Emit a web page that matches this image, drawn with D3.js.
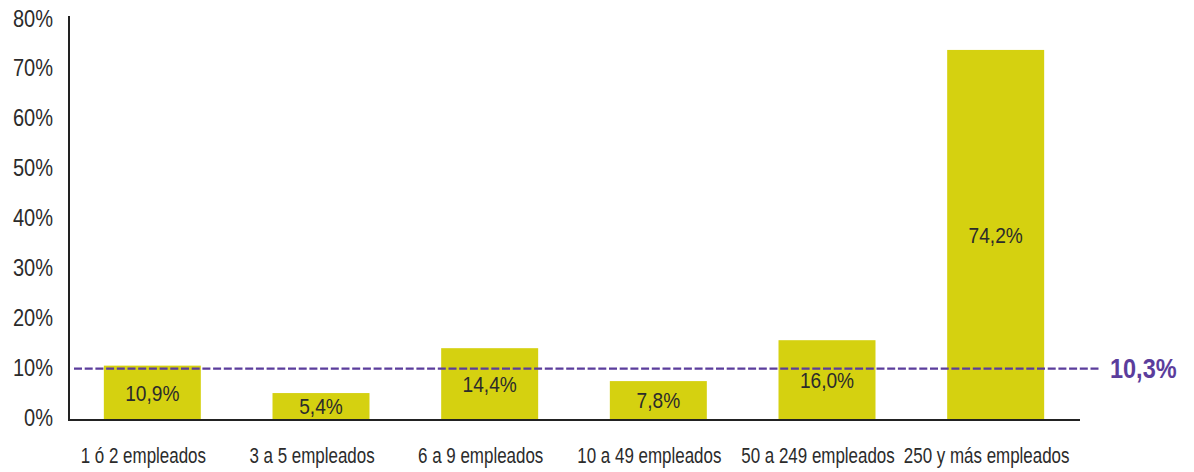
<!DOCTYPE html>
<html>
<head>
<meta charset="utf-8">
<script src="https://cdn.jsdelivr.net/npm/d3@7"></script>
<style>
  html, body { margin: 0; padding: 0; background: #fff; }
  svg text { font-family: "Liberation Sans", Arial, Helvetica, sans-serif; }
</style>
</head>
<body>
<svg id="chart" width="1194" height="472"></svg>
<script>
// Share of companies by size band, with the overall average
const categories = ["1 ó 2 empleados", "3 a 5 empleados", "6 a 9 empleados",
                    "10 a 49 empleados", "50 a 249 empleados", "250 y más empleados"];
const values = [10.9, 5.4, 14.4, 7.8, 16.0, 74.2];
const average = 10.3;
const yTicks = [0, 10, 20, 30, 40, 50, 60, 70, 80];

const fmt = v => d3.format(".1f")(v).replace(".", ",") + "%";

const svg = d3.select("#chart");
const plotLeft = 68, plotRight = 1080, plotTop = 21, plotBottom = 420;

// Horizontal squeeze factors that give a condensed look to the sans font
const squeezeDigits = 0.87;
const squeezeWords = 0.77;

const x = d3.scaleBand()
  .domain(categories)
  .range([plotLeft, plotRight])
  .paddingInner(0.425)
  .paddingOuter(0.2125);

const y = d3.scaleLinear().domain([0, 80]).range([plotBottom, plotTop]);

const textColor = "#2b2b2b";
const barColor = "#d5d110";
const avgColor = "#5b3d9c";

// Bars
svg.append("g").selectAll("rect")
  .data(values)
  .join("rect")
  .attr("x", (d, i) => x(categories[i]))
  .attr("width", x.bandwidth())
  .attr("y", d => y(d))
  .attr("height", d => y(0) - y(d))
  .attr("fill", barColor);

// Value labels inside bars
svg.append("g").selectAll("text")
  .data(values)
  .join("text")
  .attr("transform", (d, i) =>
    `translate(${x(categories[i]) + x.bandwidth() / 2},${(y(d) + y(0)) / 2}) scale(${squeezeDigits},1)`)
  .attr("text-anchor", "middle")
  .attr("dy", "0.35em")
  .attr("font-size", 22)
  .attr("fill", textColor)
  .text(d => fmt(d));

// Y axis
const yAxis = svg.append("g")
  .attr("transform", `translate(${plotLeft},0)`)
  .call(d3.axisLeft(y).tickValues(yTicks).tickSize(0).tickFormat(d => d + "%"));
yAxis.select(".domain").remove();
yAxis.selectAll("text")
  .attr("x", 0)
  .attr("dy", "0.35em")
  .attr("transform", `translate(-15,-3) scale(${squeezeDigits},1)`)
  .attr("font-size", 23)
  .attr("fill", textColor);
svg.append("line")
  .attr("x1", plotLeft + 1).attr("x2", plotLeft + 1)
  .attr("y1", plotTop - 5).attr("y2", plotBottom + 1)
  .attr("stroke", "#222").attr("stroke-width", 2);

// X axis
const xAxis = svg.append("g")
  .attr("transform", `translate(0,${plotBottom})`)
  .call(d3.axisBottom(x).tickSize(0));
xAxis.select(".domain").remove();
xAxis.selectAll("text")
  .attr("y", 0)
  .attr("dy", "0.71em")
  .attr("transform", `translate(-9,27) scale(${squeezeWords},1)`)
  .attr("font-size", 22)
  .attr("fill", textColor);
svg.append("line")
  .attr("x1", plotLeft).attr("x2", plotRight)
  .attr("y1", plotBottom).attr("y2", plotBottom)
  .attr("stroke", "#222").attr("stroke-width", 2);

// Average reference line
svg.append("line")
  .attr("x1", plotLeft + 6).attr("x2", 1099)
  .attr("y1", y(average)).attr("y2", y(average))
  .attr("stroke", avgColor)
  .attr("stroke-width", 2.4)
  .attr("stroke-dasharray", "8,2.7");

svg.append("text")
  .attr("transform", `translate(1110,${y(average)}) scale(${squeezeDigits},1)`)
  .attr("dy", "0.35em")
  .attr("font-size", 27)
  .attr("font-weight", "bold")
  .attr("fill", avgColor)
  .text(fmt(average));
</script>
</body>
</html>
